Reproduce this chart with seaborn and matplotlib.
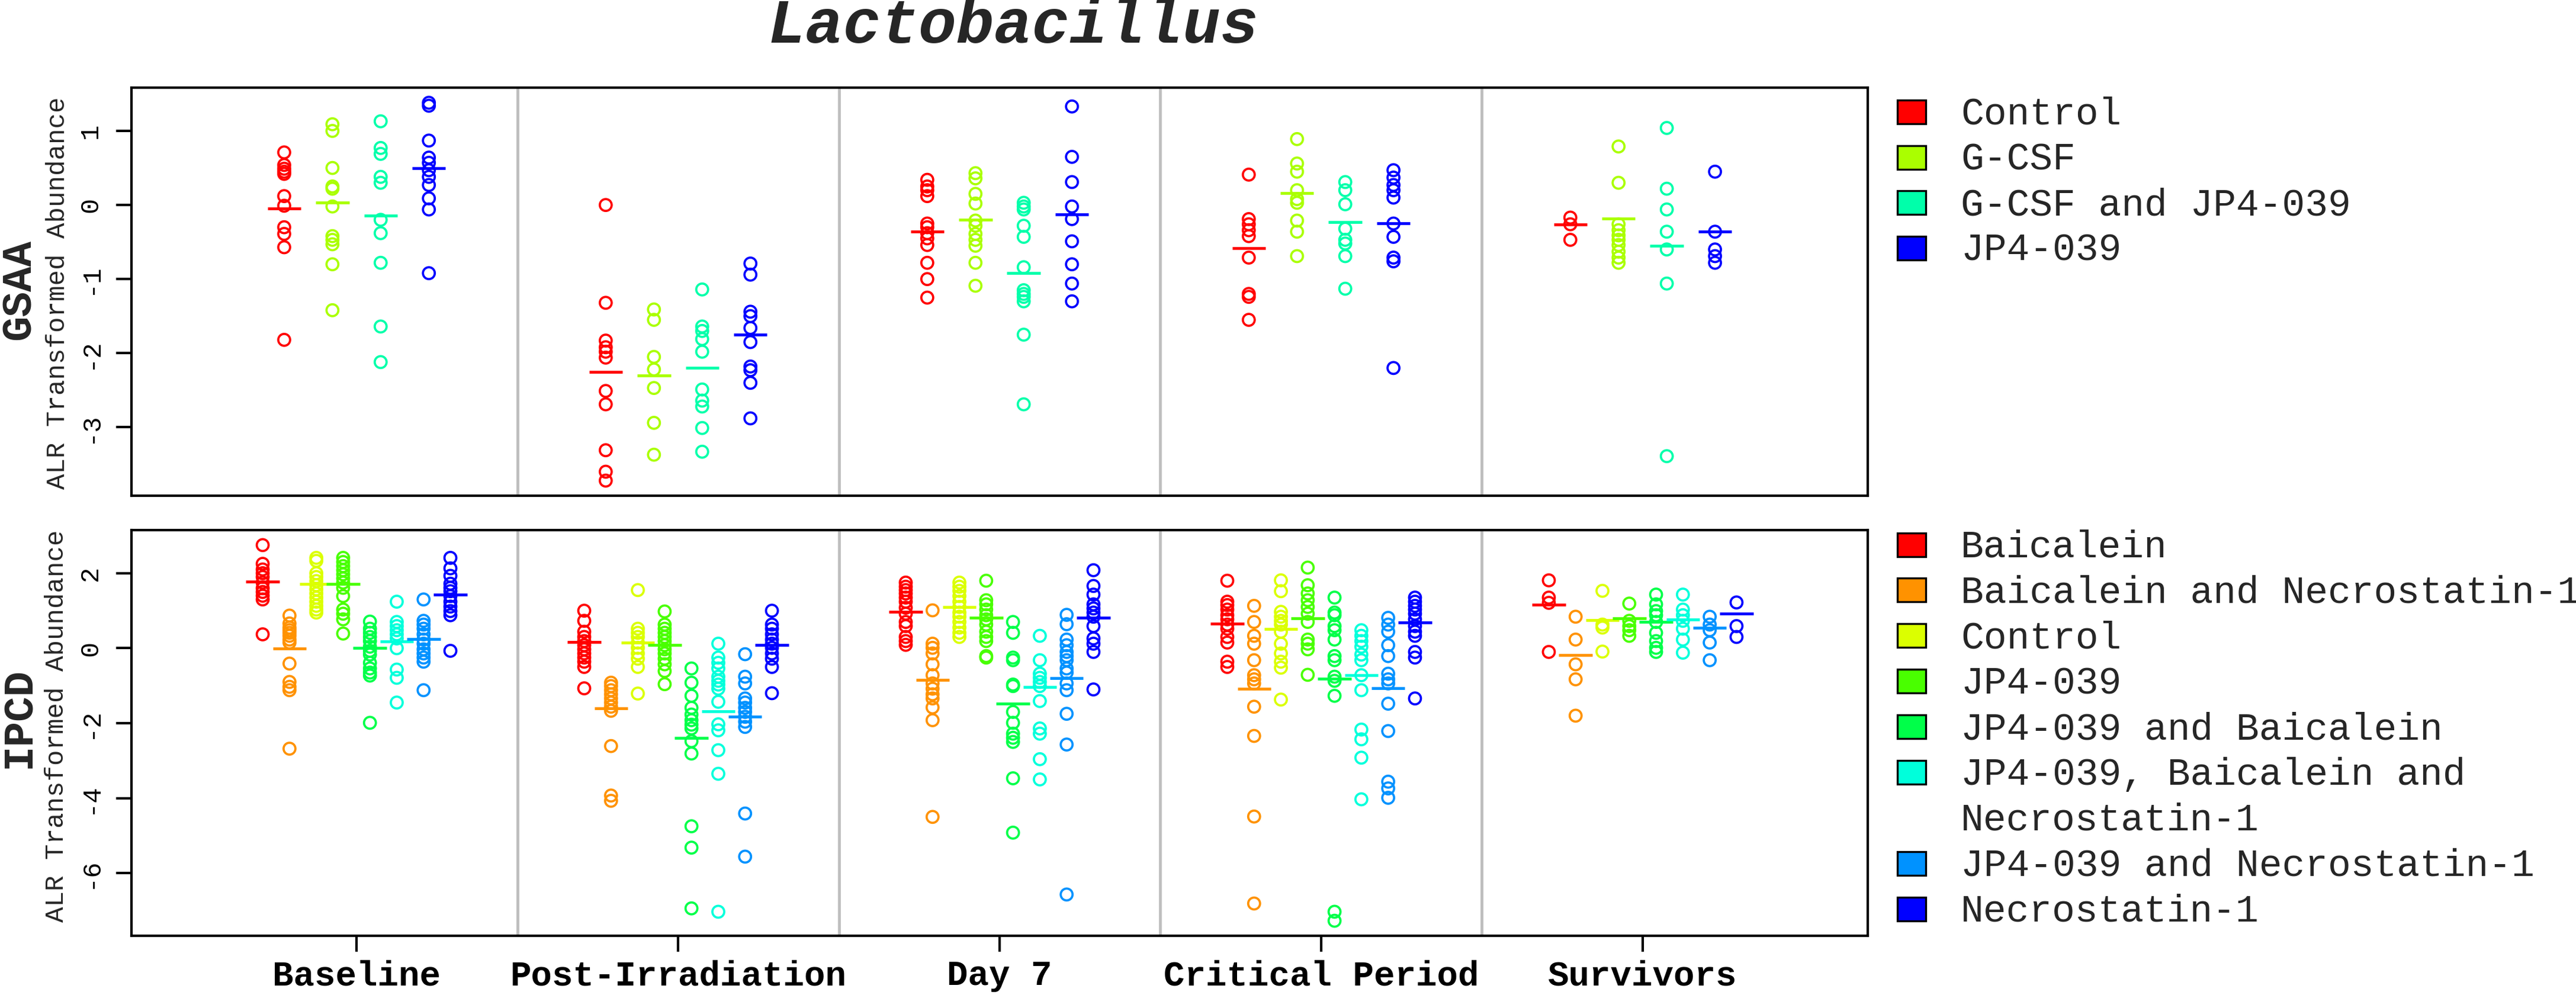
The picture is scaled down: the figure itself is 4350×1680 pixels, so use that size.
import numpy as np
import pandas as pd
import matplotlib
matplotlib.use("Agg")
import matplotlib.pyplot as plt
import seaborn as sns
from matplotlib.patches import Rectangle

# ---------------- data ----------------
TITLE = "Lactobacillus"
TIMEPOINTS = ["Baseline", "Post-Irradiation", "Day 7", "Critical Period", "Survivors"]

GSAA_TREATMENTS = ["Control", "G-CSF", "G-CSF and JP4-039", "JP4-039"]
GSAA_COLORS = ["#FF0000", "#AAFF00", "#00FFAA", "#0000FF"]
GSAA_YTICKS = [-3, -2, -1, 0, 1]

GSAA_CONTROL = [
    [0.71, 0.54, 0.49, 0.45, 0.42, 0.12, -0.01, -0.30, -0.39, -0.57, -1.82],
    [0.0, -1.32, -1.83, -1.92, -1.98, -2.06, -2.51, -2.69, -3.31, -3.60, -3.72],
    [0.34, 0.25, 0.20, 0.12, -0.25, -0.30, -0.38, -0.45, -0.54, -0.78, -1.00, -1.25],
    [0.41, -0.19, -0.26, -0.34, -0.42, -0.71, -1.20, -1.24, -1.55],
    [-0.17, -0.26, -0.47],
]
GSAA_GCSF = [
    [1.09, 1.00, 0.50, 0.25, 0.22, -0.02, -0.42, -0.47, -0.53, -0.80, -1.42],
    [-1.41, -1.55, -2.05, -2.22, -2.47, -2.94, -3.37],
    [0.43, 0.36, 0.15, 0.02, -0.21, -0.28, -0.39, -0.47, -0.55, -0.78, -1.09],
    [0.89, 0.56, 0.45, 0.20, 0.08, 0.03, -0.21, -0.36, -0.69],
    [0.79, 0.30, -0.26, -0.34, -0.41, -0.47, -0.54, -0.63, -0.71, -0.78],
]
GSAA_GCSF_JP4 = [
    [1.13, 0.77, 0.69, 0.38, 0.30, -0.20, -0.38, -0.78, -1.64, -2.12],
    [-1.14, -1.64, -1.70, -1.81, -1.98, -2.49, -2.64, -2.72, -3.01, -3.33],
    [0.03, -0.02, -0.06, -0.28, -0.43, -0.84, -1.15, -1.20, -1.24, -1.30, -1.75, -2.69],
    [0.31, 0.20, 0.01, -0.32, -0.47, -0.52, -0.69, -1.13],
    [1.04, 0.22, -0.06, -0.36, -0.60, -1.06, -3.39],
]
GSAA_JP4 = [
    [1.38, 1.34, 0.87, 0.64, 0.57, 0.47, 0.38, 0.27, 0.09, -0.06, -0.92],
    [-0.79, -0.94, -1.44, -1.50, -1.66, -1.85, -2.18, -2.23, -2.40, -2.88],
    [1.33, 0.65, 0.31, -0.02, -0.19, -0.49, -0.80, -1.06, -1.30],
    [0.47, 0.37, 0.27, 0.20, 0.10, -0.25, -0.43, -0.71, -0.76, -2.20],
    [0.45, -0.36, -0.60, -0.69, -0.78],
]
GSAA_MEANS_CONTROL = [-0.05, -2.25, -0.36, -0.58, -0.26]
GSAA_MEANS_GCSF = [0.03, -2.30, -0.20, 0.16, -0.18]
GSAA_MEANS_GCSF_JP4 = [-0.14, -2.20, -0.92, -0.23, -0.55]
GSAA_MEANS_JP4 = [0.50, -1.75, -0.13, -0.25, -0.36]

IPCD_TREATMENTS = ["Baicalein", "Baicalein and Necrostatin-1", "Control", "JP4-039",
                   "JP4-039 and Baicalein", "JP4-039, Baicalein and Necrostatin-1",
                   "JP4-039 and Necrostatin-1", "Necrostatin-1"]
IPCD_LEGEND_LABELS = ["Baicalein", "Baicalein and Necrostatin-1", "Control", "JP4-039",
                      "JP4-039 and Baicalein", "JP4-039, Baicalein and\nNecrostatin-1",
                      "JP4-039 and Necrostatin-1", "Necrostatin-1"]
IPCD_COLORS = ["#FF0000", "#FF9200", "#DBFF00", "#49FF00",
               "#00FF49", "#00FFDB", "#0092FF", "#0000FF"]
IPCD_YTICKS = [-6, -4, -2, 0, 2]

IPCD_BAI = [
    [2.75, 2.25, 2.10, 2.00, 1.90, 1.75, 1.60, 1.50, 1.40, 1.30, 0.37],
    [1.00, 0.73, 0.44, 0.30, 0.19, 0.08, -0.03, -0.14, -0.25, -0.36, -0.50, -1.07],
    [1.75, 1.64, 1.55, 1.46, 1.35, 1.24, 1.08, 0.92, 0.70, 0.59, 0.30, 0.19, 0.09],
    [1.80, 1.24, 1.15, 1.03, 0.88, 0.77, 0.63, 0.52, 0.30, 0.15, -0.36, -0.50],
    [1.81, 1.35, 1.21, -0.10],
]
IPCD_BAI_NEC = [
    [0.87, 0.66, 0.55, 0.48, 0.41, 0.33, 0.23, 0.15, -0.41, -0.90, -1.03, -1.12, -2.68],
    [-0.92, -1.01, -1.12, -1.23, -1.34, -1.45, -1.56, -1.67, -2.61, -3.93, -4.07],
    [1.01, 0.12, 0.01, -0.14, -0.43, -0.72, -0.94, -1.08, -1.23, -1.34, -1.58, -1.92, -4.50],
    [1.13, 0.70, 0.33, 0.12, -0.32, -0.72, -0.83, -0.94, -1.56, -2.34, -4.49, -6.81],
    [0.84, 0.23, -0.43, -0.83, -1.80],
]
IPCD_CONTROL = [
    [2.41, 2.33, 2.00, 1.90, 1.79, 1.68, 1.57, 1.46, 1.35, 1.24, 1.13, 1.03, 0.95],
    [1.55, 0.52, 0.41, 0.30, 0.15, 0.01, -0.14, -0.28, -0.50, -1.21],
    [1.75, 1.64, 1.53, 1.39, 1.24, 1.10, 0.95, 0.84, 0.70, 0.55, 0.41, 0.30],
    [1.81, 1.52, 0.97, 0.84, 0.73, 0.63, 0.44, 0.12, -0.14, -0.36, -0.52, -1.37],
    [1.53, 0.63, 0.55, -0.09],
]
IPCD_JP4 = [
    [2.41, 2.30, 2.19, 2.08, 1.97, 1.86, 1.75, 1.61, 1.39, 1.03, 0.92, 0.77, 0.39],
    [0.98, 0.63, 0.52, 0.41, 0.30, 0.19, 0.08, -0.03, -0.14, -0.28, -0.43, -0.61, -0.96],
    [1.80, 1.28, 1.17, 1.03, 0.88, 0.77, 0.63, 0.44, 0.30, 0.19, -0.21, -0.25],
    [2.15, 1.68, 1.46, 1.28, 1.10, 0.92, 0.70, 0.23, 0.12, -0.03, -0.71],
    [1.19, 0.73, 0.59, 0.48, 0.33],
]
IPCD_JP4_BAI = [
    [0.71, 0.52, 0.41, 0.30, 0.19, 0.04, -0.07, -0.17, -0.39, -0.54, -0.65, -0.73, -1.99],
    [-0.54, -0.92, -1.27, -1.59, -1.77, -1.92, -2.04, -2.14, -2.48, -2.81, -4.75, -5.32, -6.94],
    [0.70, 0.41, -0.25, -0.32, -0.97, -1.01, -1.70, -1.99, -2.28, -2.39, -2.50, -3.47, -4.92],
    [1.35, 0.95, 0.88, 0.59, 0.48, 0.23, -0.21, -0.32, -0.76, -0.87, -1.27, -7.03, -7.27],
    [1.43, 1.17, 0.99, 0.88, 0.70, 0.41, 0.19, 0.01, -0.10],
]
IPCD_JP4_BAI_NEC = [
    [1.24, 0.70, 0.59, 0.48, 0.37, 0.26, 0.0, -0.57, -0.79, -1.45],
    [0.12, -0.25, -0.39, -0.54, -0.76, -0.87, -0.97, -1.08, -1.43, -2.03, -2.19, -2.72, -3.35, -7.03],
    [0.33, -0.32, -0.68, -0.79, -0.90, -1.01, -1.41, -2.14, -2.28, -2.96, -3.50],
    [0.48, 0.33, 0.19, 0.04, -0.17, -0.32, -0.72, -1.12, -2.17, -2.43, -2.92, -4.03],
    [1.43, 1.03, 0.88, 0.73, 0.52, 0.23, -0.12],
]
IPCD_JP4_NEC = [
    [1.30, 0.73, 0.63, 0.52, 0.37, 0.23, 0.12, -0.03, -0.14, -0.25, -0.36, -1.12],
    [-0.16, -0.76, -0.94, -1.34, -1.45, -1.59, -1.70, -1.83, -1.96, -2.10, -4.41, -5.56],
    [0.89, 0.64, 0.23, 0.08, -0.10, -0.21, -0.32, -0.54, -0.65, -0.94, -1.12, -1.75, -2.57, -6.57],
    [0.81, 0.63, 0.44, 0.08, -0.21, -0.68, -0.83, -0.94, -1.48, -2.21, -3.56, -3.74, -3.99],
    [0.84, 0.63, 0.48, 0.15, -0.32],
]
IPCD_NEC = [
    [2.41, 2.13, 1.93, 1.72, 1.61, 1.52, 1.39, 1.24, 1.11, 0.99, 0.88, -0.07],
    [1.00, 0.63, 0.52, 0.37, 0.23, 0.12, 0.01, -0.14, -0.28, -0.50, -1.20],
    [2.08, 1.66, 1.43, 1.17, 1.06, 0.95, 0.84, 0.59, 0.26, 0.12, -0.10, -1.10],
    [1.35, 1.24, 1.13, 1.03, 0.92, 0.77, 0.59, 0.44, 0.33, -0.10, -0.25, -1.34],
    [1.22, 0.59, 0.30],
]
IPCD_MEANS_BAI = [1.77, 0.16, 0.97, 0.66, 1.16]
IPCD_MEANS_BAI_NEC = [-0.01, -1.61, -0.84, -1.09, -0.19]
IPCD_MEANS_CONTROL = [1.72, 0.15, 1.09, 0.52, 0.75]
IPCD_MEANS_JP4 = [1.72, 0.09, 0.81, 0.79, 0.79]
IPCD_MEANS_JP4_BAI = [0.0, -2.39, -1.48, -0.81, 0.70]
IPCD_MEANS_JP4_BAI_NEC = [0.18, -1.68, -1.03, -0.72, 0.76]
IPCD_MEANS_JP4_NEC = [0.25, -1.82, -0.80, -1.06, 0.55]
IPCD_MEANS_NEC = [1.43, 0.09, 0.82, 0.68, 0.92]

GSAA_SERIES = [GSAA_CONTROL, GSAA_GCSF, GSAA_GCSF_JP4, GSAA_JP4]
GSAA_MEANS = [GSAA_MEANS_CONTROL, GSAA_MEANS_GCSF, GSAA_MEANS_GCSF_JP4, GSAA_MEANS_JP4]
IPCD_SERIES = [IPCD_BAI, IPCD_BAI_NEC, IPCD_CONTROL, IPCD_JP4, IPCD_JP4_BAI,
               IPCD_JP4_BAI_NEC, IPCD_JP4_NEC, IPCD_NEC]
IPCD_MEANS = [IPCD_MEANS_BAI, IPCD_MEANS_BAI_NEC, IPCD_MEANS_CONTROL, IPCD_MEANS_JP4,
              IPCD_MEANS_JP4_BAI, IPCD_MEANS_JP4_BAI_NEC, IPCD_MEANS_JP4_NEC, IPCD_MEANS_NEC]

# ---------------- style ----------------
sns.set_style("ticks")
plt.rcParams["font.family"] = ["Liberation Mono", "DejaVu Sans Mono"]
plt.rcParams["axes.linewidth"] = 1.0

W, H = 4350, 1680
DPI = 300
fig = plt.figure(figsize=(W / DPI, H / DPI), dpi=DPI)
fig.patch.set_facecolor("white")

LEFT, RIGHT = 222, 3154


def ax_rect(top_px, bottom_px):
    return [LEFT / W, 1 - bottom_px / H, (RIGHT - LEFT) / W, (bottom_px - top_px) / H]


ax_top = fig.add_axes(ax_rect(148, 837))
ax_bot = fig.add_axes(ax_rect(895, 1580))


def build_frame(treatments, series, spacing):
    rows = []
    n = len(treatments)
    for ti, (name, groups) in enumerate(zip(treatments, series)):
        for gi, vals in enumerate(groups):
            for v in vals:
                rows.append((name, gi, ti, v))
    df = pd.DataFrame(rows, columns=["treatment", "tp", "trt", "value"])
    df["x"] = df["tp"] + 1 + (df["trt"] - (n - 1) / 2) * spacing
    return df


def draw_panel(ax, treatments, colors, series, means, spacing, yticks):
    df = build_frame(treatments, series, spacing)
    n = len(treatments)
    for b in [1.5, 2.5, 3.5, 4.5]:
        ax.axvline(b, color="#BEBEBE", lw=1.15, zorder=1)
    before = len(ax.collections)
    sns.scatterplot(data=df, x="x", y="value", hue="treatment", hue_order=treatments,
                    palette=colors, s=23, linewidth=0.9, legend=False, ax=ax, zorder=3)
    coll = ax.collections[before]
    fc = coll.get_facecolors()
    coll.set_edgecolors(fc)
    coll.set_facecolors("none")
    for ti, (m, c) in enumerate(zip(means, colors)):
        xs = np.arange(1, 6) + (ti - (n - 1) / 2) * spacing
        lc = ax.hlines(m, xs - 0.052, xs + 0.052, colors=c, linewidth=1.15, zorder=4)
        lc.set_capstyle("butt")
    lo, hi = df["value"].min(), df["value"].max()
    pad = 0.04 * (hi - lo)
    ax.set_ylim(lo - pad, hi + pad)
    ax.set_xlim(0.3, 5.7)
    ax.set_xlabel("")
    ax.set_ylabel("")
    ax.set_yticks(yticks)
    ax.set_yticklabels([str(t) for t in yticks], rotation=90, va="center", ha="right")
    ax.tick_params(axis="y", length=6.2, width=1.0, labelsize=10.5, pad=5.5,
                   direction="out", colors="black")
    for sp in ax.spines.values():
        sp.set_visible(True)
        sp.set_linewidth(1.0)
        sp.set_color("black")
        sp.set_zorder(5)


draw_panel(ax_top, GSAA_TREATMENTS, GSAA_COLORS, GSAA_SERIES, GSAA_MEANS, 0.15, GSAA_YTICKS)
draw_panel(ax_bot, IPCD_TREATMENTS, IPCD_COLORS, IPCD_SERIES, IPCD_MEANS, 0.0834, IPCD_YTICKS)

ax_top.set_xticks([])
ax_bot.set_xticks(np.arange(1, 6))
ax_bot.set_xticklabels(TIMEPOINTS, fontsize=14.2, fontweight="bold")
ax_bot.tick_params(axis="x", length=6.5, width=1.0, pad=3.2, direction="out", colors="black")

# title
fig.text(1711 / W, 1 - 72 / H, TITLE, fontsize=25.5, fontweight="bold", fontstyle="italic",
         ha="center", va="baseline")

# y labels
fig.text(33 / W, 1 - 489 / H, "GSAA", rotation=90, fontsize=17, fontweight="bold",
         ha="center", va="center")
fig.text(98 / W, 1 - 495 / H, "ALR Transformed Abundance", rotation=90, fontsize=10.6,
         ha="center", va="center")
fig.text(33 / W, 1 - 1212 / H, "IPCD", rotation=90, fontsize=17, fontweight="bold",
         ha="center", va="center")
fig.text(96 / W, 1 - 1226 / H, "ALR Transformed Abundance", rotation=90, fontsize=10.6,
         ha="center", va="center")


# legends (drawn in figure pixel coordinates)
def draw_legend(labels, colors, first_cy, step):
    row = 0
    LEG_FS = 15.5
    for lab, col in zip(labels, colors):
        lines = lab.split("\n")
        cy = first_cy + row * step
        sq_w, sq_h = 48, 40
        fig.add_artist(Rectangle(((3228 - sq_w / 2) / W, 1 - (cy + sq_h / 2) / H),
                                 sq_w / W, sq_h / H, transform=fig.transFigure,
                                 facecolor=col, edgecolor="black", lw=0.8))
        for k, line in enumerate(lines):
            ly = cy + k * step
            fig.text(3311 / W, 1 - (ly + 21) / H, line, fontsize=LEG_FS,
                     ha="left", va="baseline")
        row += len(lines)


draw_legend(GSAA_TREATMENTS, GSAA_COLORS, 189, 76.6)
draw_legend(IPCD_LEGEND_LABELS, IPCD_COLORS, 919.5, 76.9)

fig.savefig("out.png", dpi=DPI, facecolor="white")
